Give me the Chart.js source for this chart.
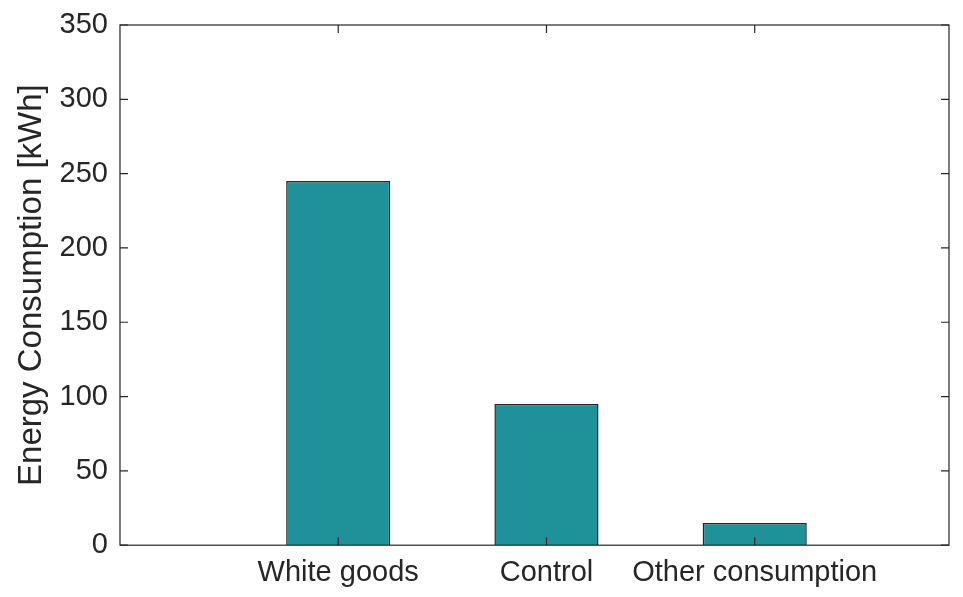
<!DOCTYPE html>
<html><head><meta charset="utf-8">
<script src="https://cdn.jsdelivr.net/npm/chart.js@4"></script>
<style>body{margin:0;background:#fff}#w{width:963px;height:597px}</style>
</head><body><div id="w"><canvas id="c"></canvas></div>
<script>
const categories = ['White goods','Control','Other consumption'];
const values = [245, 95, 15];
const positions = [1, 2, 3];
const yTicks = [0,50,100,150,200,250,300,350];

const boxPlugin = {
  id:'box',
  afterDatasetsDraw(chart){
    const {ctx, chartArea:a, scales:{x,y}} = chart;
    ctx.save();
    ctx.strokeStyle='#262626'; ctx.lineWidth=1.2;
    ctx.strokeRect(a.left, a.top, a.right-a.left, a.bottom-a.top);
    ctx.beginPath();
    positions.forEach(p=>{const px=x.getPixelForValue(p);
      ctx.moveTo(px,a.bottom);ctx.lineTo(px,a.bottom-8);
      ctx.moveTo(px,a.top);ctx.lineTo(px,a.top+8);});
    yTicks.forEach(v=>{const py=y.getPixelForValue(v);
      ctx.moveTo(a.left,py);ctx.lineTo(a.left+8,py);
      ctx.moveTo(a.right,py);ctx.lineTo(a.right-8,py);});
    ctx.stroke(); ctx.restore();
  }
};

new Chart(document.getElementById('c'),{
  type:'bar',
  data:{datasets:[{data:positions.map((p,i)=>({x:p,y:values[i]})),
    backgroundColor:'#1f9199',borderColor:'#262626',borderWidth:1.5,
    barPercentage:0.5,categoryPercentage:1}]},
  options:{responsive:true,maintainAspectRatio:false,animation:false,
    layout:{padding:{top:25,right:14,left:8,bottom:5}},
    plugins:{legend:{display:false},tooltip:{enabled:false}},
    scales:{
      x:{type:'linear',min:-0.048,max:3.933,offset:false,bounds:'data',
        afterBuildTicks:s=>{s.ticks=positions.map(v=>({value:v}));},
        ticks:{autoSkip:false,maxRotation:0,color:'#262626',font:{family:'Liberation Sans',size:29},padding:2,
          callback:v=>categories[positions.indexOf(v)]},
        grid:{display:false},border:{display:false}},
      y:{min:0,max:350,
        afterBuildTicks:s=>{s.ticks=yTicks.map(v=>({value:v}));},
        ticks:{color:'#262626',font:{family:'Liberation Sans',size:29},padding:4},
        grid:{display:false},border:{display:false},
        title:{display:true,text:'Energy Consumption [kWh]',color:'#262626',font:{family:'Liberation Sans',size:33},padding:{bottom:4}}}
    }},
  plugins:[boxPlugin]
});
</script></body></html>
